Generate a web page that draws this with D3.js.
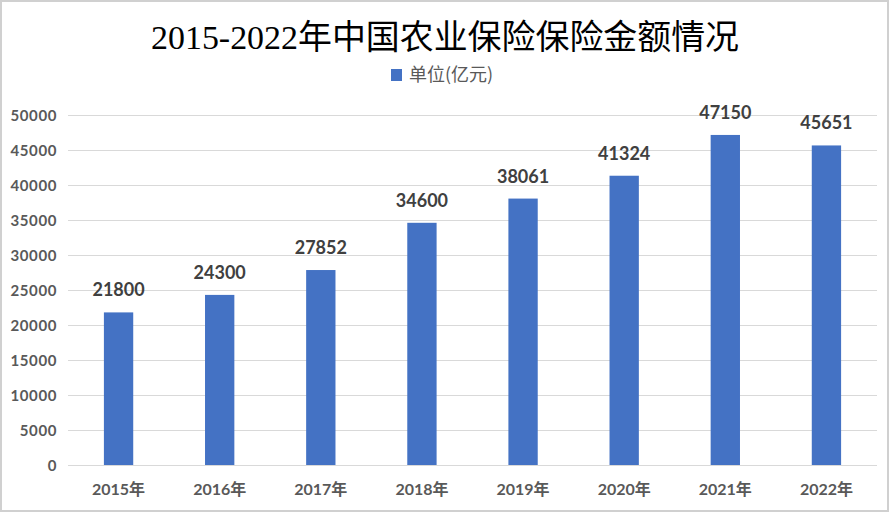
<!DOCTYPE html>
<html><head><meta charset="utf-8">
<script src="https://cdn.jsdelivr.net/npm/d3@7"></script>
<style>html,body{margin:0;padding:0;background:#fff;}svg{display:block;}</style>
</head><body>
<script>
const categories = ["2015年","2016年","2017年","2018年","2019年","2020年","2021年","2022年"];
const values = [21800,24300,27852,34600,38061,41324,47150,45651];
const yTicks = [0,5000,10000,15000,20000,25000,30000,35000,40000,45000,50000];
const title = "2015-2022年中国农业保险保险金额情况";
const seriesName = "单位(亿元)";

const W = 890, H = 513;
const svg = d3.select("body").append("svg").attr("width", W).attr("height", H);
svg.append("rect").attr("x",1).attr("y",1).attr("width",W-3).attr("height",H-3)
  .attr("fill","#fff").attr("stroke","#d0d0d0").attr("stroke-width",2);

const x = d3.scaleBand().domain(categories).range([68, 877]).paddingInner(0.71).paddingOuter(0.355);
const y = d3.scaleLinear().domain([0, 50000]).range([465, 115]);

// gridlines
svg.append("g").selectAll("line").data(yTicks).join("line")
  .attr("x1",68).attr("x2",877).attr("y1",d=>y(d)+0.5).attr("y2",d=>y(d)+0.5)
  .attr("stroke","#d9d9d9").attr("stroke-width",1);

// y axis labels
const yAxis = d3.axisLeft(y).tickValues(yTicks).tickSize(0).tickPadding(0).tickFormat(d3.format("d"));
const gy = svg.append("g").attr("transform","translate(57,0)").call(yAxis);
gy.select(".domain").remove();
gy.selectAll("text").attr("font-family","Lato, 'Noto Sans', sans-serif").attr("font-weight","bold")
  .attr("font-size","15px").attr("letter-spacing","0.6px").attr("fill","#595959").attr("dy","0.35em");

// x axis labels
const xAxis = d3.axisBottom(x).tickSize(0).tickPadding(0);
const gx = svg.append("g").attr("transform","translate(0,465)").call(xAxis);
gx.select(".domain").remove();
gx.selectAll("text").attr("font-family","Lato, 'Noto Sans CJK SC', sans-serif").attr("font-weight","bold")
  .attr("font-size","16px").attr("fill","#595959").attr("y",24).attr("dy","0.35em");

// bars
svg.append("g").selectAll("rect").data(values).join("rect")
  .attr("x",(d,i)=>x(categories[i])).attr("width",x.bandwidth())
  .attr("y",d=>y(d)).attr("height",d=>y(0)-y(d)).attr("fill","#4472c4");

// data labels
svg.append("g").selectAll("text").data(values).join("text")
  .attr("x",(d,i)=>x(categories[i])+x.bandwidth()/2).attr("y",d=>y(d)-16)
  .attr("text-anchor","middle").attr("font-family","Lato, 'Noto Sans', sans-serif").attr("font-weight","bold")
  .attr("font-size","18px").attr("fill","#404040").text(d=>d);

// title
svg.append("text").attr("x",445).attr("y",49).attr("text-anchor","middle")
  .attr("font-family","'Liberation Serif', 'Noto Sans CJK SC', serif").attr("font-size","34px")
  .attr("fill","#000").attr("textLength",588).attr("lengthAdjust","spacingAndGlyphs").text(title);

// legend
svg.append("rect").attr("x",391).attr("y",69).attr("width",11).attr("height",12).attr("fill","#4472c4");
svg.append("text").attr("x",409).attr("y",75).attr("dy","0.35em")
  .attr("font-family","'Noto Sans CJK SC', sans-serif").attr("font-size","18px").attr("fill","#595959").text(seriesName);
</script>
</body></html>
